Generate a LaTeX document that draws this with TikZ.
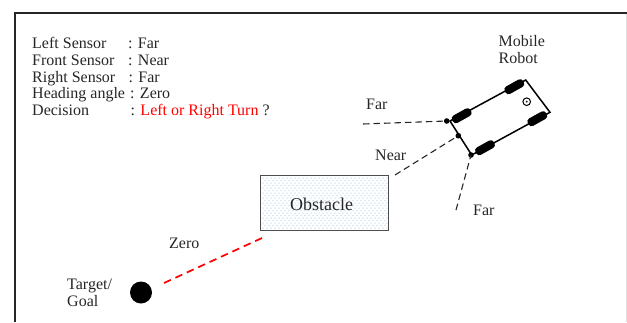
\documentclass[tikz,border=0pt]{standalone}
\usepackage{fontspec}
\setmainfont{Liberation Serif}
\definecolor{obstdots}{RGB}{190,218,242}
\tikzset{
  label/.style={inner sep=0pt, anchor=base west, text=black!85, font=\fontsize{16}{18}\selectfont},
  sensorray/.style={dash pattern=on 6.5pt off 4pt, line width=1.1pt, black!85},
  wheel/.style={fill=black, rounded corners=3.5pt},
}
\begin{document}
\begin{tikzpicture}[x=1pt, y=-1pt, line cap=butt, line join=miter]
  \useasboundingbox (0,0) rectangle (627,322);
  % el marco
  \draw[line width=0.8pt, black!12] (626.3,12.5) -- (626.3,322);
  \draw[line width=2pt, black!85] (14.5,322) -- (14.5,12.5) -- (627,12.5);
  % la tabla de sensores
  \node[label] at (32,48.5) {Left Sensor};
  \node[label] at (128,48.5) {: Far};
  \node[label] at (32,65.5) {Front Sensor};
  \node[label] at (128,65.5) {: Near};
  \node[label] at (32,82) {Right Sensor};
  \node[label] at (128.5,82) {: Far};
  \node[label] at (32,98.5) {Heading angle};
  \node[label] at (130,98.5) {: Zero};
  \node[label] at (32,115.5) {Decision};
  \node[label] at (130.5,115.5) {: \textcolor{red}{Left or Right Turn} ?};
  % el robot
  \coordinate (rearL) at (450,121);
  \coordinate (rearR) at (471.7,155);
  \coordinate (frontR) at (550,112.3);
  \coordinate (frontL) at (525.7,80);
  \draw[line width=1.5pt] (rearR) -- (rearL) -- (frontL) -- (frontR) -- (rearR);
  \foreach \x/\y in {461.7/115.7, 514.3/86.7, 485/147.7, 537.3/118.7} {
    \fill[wheel, rotate around={29:(\x,\y)}] (\x-10.5,\y-4.2) rectangle (\x+10.5,\y+4.2);
  }
  \draw[line width=1pt] (526.7,101.7) circle (3.8);
  \fill (526.7,101.7) circle (1);
  \node[label] at (498.5,46.5) {Mobile};
  \node[label] at (498.5,63.5) {Robot};
  % los sensores
  \fill (446.7,121) coordinate (dotL) circle (2.8);
  \fill (458.3,135.7) coordinate (dotF) circle (2.8);
  \fill (471,155) coordinate (dotR) circle (2.8);
  \coordinate (endL) at (363,124);
  \coordinate (endF) at (395,175);
  \coordinate (endR) at (456,210);
  \draw[sensorray] (endL) -- (dotL);
  \draw[sensorray] (endF) -- (dotF);
  \draw[sensorray] (endR) -- (dotR);
  \node[label] at (366,109.5) {Far};
  \node[label] at (375,160.5) {Near};
  \node[label] at (473,215) {Far};
  % el obstaculo
  \foreach \y [count=\n] in {178,180.5,...,229} {
    \pgfmathsetmacro{\xstart}{isodd(\n) ? 263 : 265}
    \pgfmathsetmacro{\xnext}{\xstart+4}
    \foreach \x in {\xstart,\xnext,...,387} {
      \fill[obstdots] (\x,\y) circle (0.75);
    }
  }
  \node[draw=black!70, line width=1.2pt, minimum width=128pt, minimum height=55pt, inner sep=0pt] (obstacle) at (324.5,203) {};
  \node[font=\fontsize{18}{20}\selectfont, text=black!85] at (321.5,204) {Obstacle};
  % el objetivo
  \node[circle, fill=black, minimum size=22pt, inner sep=0pt] (goal) at (141,292.5) {};
  \coordinate (zeroS) at (164,283);
  \coordinate (zeroE) at (262,238);
  \draw[red, line width=1.7pt, dash pattern=on 7.5pt off 5.04pt] (zeroS) -- (zeroE);
  \node[label] at (169,248.5) {Zero};
  \node[label] at (67,289.5) {Target/};
  \node[label] at (67,306.5) {Goal};
\end{tikzpicture}
\end{document}
